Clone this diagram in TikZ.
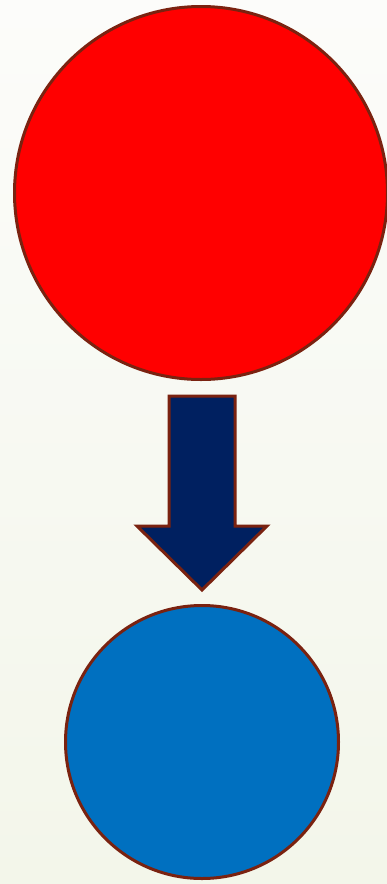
\documentclass[tikz,border=0pt]{standalone}
\usepackage{xcolor}
\usetikzlibrary{positioning}
\definecolor{discred}{HTML}{FF0000}
\definecolor{discblue}{HTML}{0070C0}
\definecolor{arrownavy}{HTML}{002060}
\definecolor{rimbrown}{HTML}{7A2210}
\definecolor{bgtop}{HTML}{FCFCFA}
\definecolor{bgbottom}{HTML}{F3F6EA}

\begin{document}
\begin{tikzpicture}[x=1pt, y=-1pt,
  disc/.style={circle, draw=rimbrown, line width=3pt, inner sep=0pt},
  blockarrow/.style={draw=rimbrown, line width=3pt, fill=arrownavy, line join=miter}]
\shade[top color=bgtop, bottom color=bgbottom] (0,0) rectangle (387,884);
\useasboundingbox (0,0) rectangle (387,884);
\node[disc, fill=discred, minimum size=373pt] (big) at (201,193) {};
\node[disc, fill=discblue, minimum size=273pt] (small) at (202,742) {};
\draw[blockarrow] (169,396) -- (235,396) -- (235,526) -- (267,526) -- (202,590)
  -- (137,526) -- (169,526) -- cycle;
\end{tikzpicture}
\end{document}
